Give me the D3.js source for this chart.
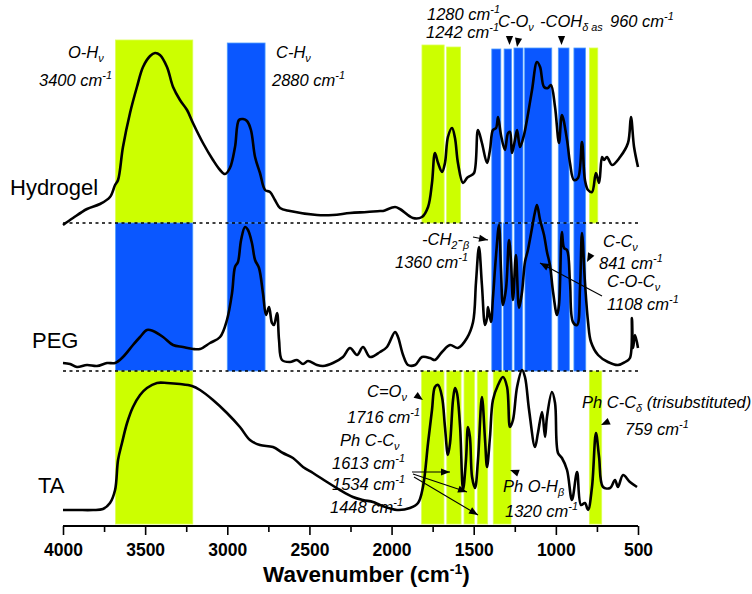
<!DOCTYPE html>
<html><head><meta charset="utf-8">
<script src="https://cdn.jsdelivr.net/npm/d3@7"></script>
<style>html,body{margin:0;padding:0;background:#fff;}svg{display:block;font-family:"Liberation Sans",Arial,sans-serif;}</style>
</head><body>
<svg id="c" width="752" height="594"></svg>
<script>
// ---------------- DATA ----------------
// spectra: [wavenumber (cm-1), intensity (a.u.) above own baseline]
const hydrogel = [[4000,-0.02],[3939,0.05],[3854,0.14],[3775,0.19],[3714,0.26],[3683,0.38],[3665,0.43],[3635,0.76],[3592,1.10],[3550,1.36],[3513,1.56],[3470,1.67],[3440,1.70],[3410,1.68],[3367,1.56],[3330,1.36],[3288,1.23],[3245,1.13],[3209,1.00],[3148,0.80],[3087,0.63],[3044,0.53],[3014,0.49],[2984,0.55],[2953,0.76],[2929,1.03],[2904,1.04],[2880,1.02],[2856,0.93],[2831,0.66],[2801,0.50],[2770,0.33],[2740,0.31],[2710,0.23],[2679,0.15],[2618,0.12],[2454,0.08],[2357,0.08],[2253,0.10],[2150,0.11],[2070,0.12],[2052,0.12],[1979,0.16],[1949,0.14],[1870,0.05],[1815,0.06],[1778,0.16],[1754,0.40],[1736,0.70],[1717,0.60],[1693,0.51],[1675,0.60],[1657,0.86],[1632,0.95],[1614,0.85],[1596,0.60],[1565,0.40],[1541,0.45],[1523,0.47],[1498,0.50],[1474,0.93],[1450,0.80],[1419,0.60],[1401,0.73],[1383,0.93],[1364,0.95],[1352,1.06],[1334,0.88],[1310,0.73],[1291,0.90],[1279,0.91],[1267,0.70],[1249,0.83],[1236,0.93],[1218,0.76],[1194,0.88],[1176,1.03],[1145,1.33],[1115,1.61],[1096,1.56],[1072,1.36],[1048,1.35],[1030,1.38],[1005,1.16],[981,0.80],[963,1.08],[932,0.83],[914,0.60],[890,0.43],[865,0.45],[841,0.81],[823,0.43],[804,0.33],[780,0.31],[756,0.50],[737,0.40],[719,0.66],[707,0.63],[689,0.66],[658,0.58],[609,0.66],[561,0.80],[543,1.06],[524,0.76],[500,0.56]];

const peg = [[4000,0.08],[3957,0.07],[3915,0.04],[3854,0.06],[3793,0.05],[3732,0.08],[3683,0.08],[3635,0.14],[3574,0.26],[3531,0.34],[3489,0.41],[3452,0.40],[3391,0.34],[3330,0.26],[3270,0.24],[3209,0.22],[3166,0.22],[3105,0.28],[3044,0.34],[3002,0.51],[2971,0.78],[2953,1.04],[2935,1.09],[2916,1.31],[2892,1.44],[2874,1.41],[2850,1.28],[2831,1.11],[2807,1.03],[2783,0.78],[2764,0.56],[2746,0.64],[2728,0.48],[2716,0.46],[2697,0.58],[2685,0.31],[2667,0.11],[2618,0.09],[2576,0.11],[2539,0.07],[2509,0.10],[2454,0.06],[2417,0.05],[2357,0.08],[2296,0.14],[2253,0.23],[2210,0.16],[2174,0.24],[2131,0.14],[2070,0.19],[2028,0.24],[1979,0.39],[1961,0.34],[1930,0.16],[1900,0.06],[1857,0.06],[1815,0.14],[1766,0.13],[1736,0.11],[1693,0.19],[1644,0.26],[1596,0.23],[1541,0.33],[1504,0.49],[1486,0.89],[1468,1.24],[1450,0.86],[1431,0.46],[1419,0.53],[1413,0.64],[1395,0.49],[1383,0.73],[1364,1.16],[1346,1.46],[1334,1.01],[1322,0.66],[1303,0.83],[1285,1.31],[1273,1.09],[1261,0.71],[1243,1.16],[1224,0.63],[1206,0.79],[1188,1.09],[1170,1.21],[1145,1.43],[1127,1.59],[1115,1.66],[1096,1.51],[1072,1.36],[1054,1.19],[1036,1.06],[1017,0.79],[993,0.56],[981,0.66],[963,1.39],[950,1.23],[932,1.21],[914,0.89],[896,0.49],[871,0.46],[853,0.83],[841,1.38],[823,0.89],[804,0.49],[786,0.29],[743,0.16],[683,0.09],[622,0.06],[579,0.09],[549,0.13],[537,0.53],[530,0.23],[518,0.36],[500,0.23]];

const ta = [[4000,0.16],[3915,0.16],[3817,0.16],[3757,0.17],[3714,0.23],[3683,0.36],[3665,0.66],[3641,0.83],[3610,1.03],[3574,1.19],[3531,1.31],[3489,1.38],[3428,1.43],[3367,1.43],[3288,1.42],[3215,1.40],[3166,1.36],[3087,1.26],[3002,1.13],[2923,0.99],[2862,0.86],[2801,0.81],[2722,0.79],[2661,0.73],[2600,0.68],[2539,0.59],[2478,0.53],[2393,0.44],[2314,0.36],[2235,0.29],[2174,0.26],[2113,0.24],[2070,0.21],[1967,0.16],[1888,0.18],[1839,0.23],[1809,0.39],[1778,0.83],[1754,1.16],[1736,1.39],[1717,1.41],[1693,1.29],[1675,0.99],[1657,0.71],[1644,0.83],[1626,1.26],[1614,1.38],[1602,1.33],[1583,0.99],[1565,0.36],[1547,0.66],[1535,0.99],[1523,0.89],[1510,0.49],[1492,0.38],[1474,0.66],[1450,1.29],[1431,0.86],[1419,0.59],[1401,0.89],[1383,1.26],[1352,1.41],[1322,1.49],[1297,1.39],[1279,0.99],[1261,1.06],[1236,1.39],[1206,1.56],[1188,1.49],[1163,1.16],[1127,0.79],[1109,0.93],[1084,1.14],[1066,0.89],[1054,1.09],[1024,1.34],[1005,1.23],[987,0.73],[963,0.68],[932,0.56],[902,0.26],[871,0.54],[847,0.21],[823,0.23],[804,0.16],[780,0.39],[756,0.93],[737,0.69],[713,0.39],[670,0.38],[640,0.46],[622,0.39],[591,0.51],[549,0.44],[506,0.39]];

const spectraNames = ["Hydrogel", "PEG", "TA"];
const offsets = [3.03, 1.55, 0];           // vertical stacking offsets (a.u.)
const panelHeights = [1.48, 1.48, 1.55];  // height of each stacked panel (a.u.)

// highlighted bands: [from, to, kind]  (kind: "y" = yellow, "b" = blue), tops in a.u. above baseline
const hydrogelBands = [[3680,3210,"y",1.83],[3000,2770,"b",1.80],[1815,1680,"y",1.78],[1665,1580,"y",1.76],[1390,1335,"b",1.74],[1315,1270,"b",1.74],[1255,1200,"b",1.75],[1190,1025,"b",1.75],[985,920,"b",1.75],[890,820,"b",1.75],[795,745,"y",1.75]];
const pegBands = [[3680,3210,"b"],[3000,2770,"b"],[1390,1330,"b"],[1320,1267,"b"],[1253,1202,"b"],[1188,1025,"b"],[987,918,"b"],[890,818,"b"]];
const taBands = [[3680,3210,"y"],[1817,1681,"y"],[1664,1577,"y"],[1559,1496,"y"],[1478,1415,"y"],[1381,1273,"y"],[796,721,"y"]];

const tickValues = [4000,3750,3500,3250,3000,2750,2500,2250,2000,1750,1500,1250,1000,750,500];
const tickLabels = {4000:"4000",3500:"3500",3000:"3000",2500:"2500",2000:"2000",1500:"1500",1000:"1000",500:"500"};

// ---------------- DRAW ----------------
const svg = d3.select("#c");
const x = d3.scaleLinear().domain([4000, 500]).range([63, 638]);
const y = d3.scaleLinear().domain([0, 4.86]).range([526, 40]);
const fillC = {y: "#ccff00", b: "#0a57ff"};
const edgeC = {y: "#dcff55", b: "#4d9dff"};

const gb = svg.append("g");
function bands(list, base, height) {
  gb.selectAll(null).data(list).enter().append("rect")
    .attr("x", d => x(d[0]))
    .attr("width", d => x(d[1]) - x(d[0]))
    .attr("y", d => y(base + (d[3] !== undefined ? d[3] : height)))
    .attr("height", d => y(base) - y(base + (d[3] !== undefined ? d[3] : height)))
    .attr("fill", d => fillC[d[2]])
    .attr("stroke", d => edgeC[d[2]]).attr("stroke-width", 0.8);
}
bands(hydrogelBands, offsets[0], 1.75);
bands(pegBands, offsets[1], panelHeights[1]);
bands(taBands, offsets[2] + 0.02, 1.53);

// dotted separators
[offsets[0], offsets[1]].forEach(o => {
  svg.append("line").attr("x1", x(4000)).attr("x2", x(500)).attr("y1", y(o)).attr("y2", y(o))
    .attr("stroke", "#000").attr("stroke-width", 1.5).attr("stroke-dasharray", "3,3.5");
});

// spectra
const line = d3.line().x(d => x(d[0])).y(d => y(d[1])).curve(d3.curveCatmullRom.alpha(0.5));
[hydrogel, peg, ta].forEach((s, i) => {
  svg.append("path").datum(s.map(d => [d[0], d[1] + offsets[i]]))
    .attr("d", line).attr("fill", "none").attr("stroke", "#000")
    .attr("stroke-width", 2.6).attr("stroke-linejoin", "round");
});

// axis
const axis = d3.axisBottom(x).tickValues(tickValues).tickSizeOuter(0)
  .tickSize(9).tickFormat(d => tickLabels[d] || "");
const ga = svg.append("g").attr("transform", "translate(0,526)").call(axis);
ga.select(".domain").attr("stroke-width", 2).attr("d", "M63,0H638");
ga.selectAll(".tick line").attr("stroke-width", 1.6).attr("y2", d => tickLabels[d] ? 9 : 6);
ga.selectAll(".tick text").attr("y", 30).attr("dy", 0).attr("font-size", 17.5)
  .attr("font-weight", "bold").attr("fill", "#000").attr("font-family", '"Liberation Sans",Arial,sans-serif');

// axis title
const tt = svg.append("text").attr("x", 263).attr("y", 582).attr("font-size", 22.5).attr("font-weight", "bold");
tt.append("tspan").text("Wavenumber (cm");
tt.append("tspan").attr("dy", -8).attr("font-size", 14).text("-1");
tt.append("tspan").attr("dy", 8).text(")");

// spectrum names
const nameXY = [[10,195],[32,348],[38,493]];
spectraNames.forEach((n, i) => svg.append("text").attr("x", nameXY[i][0]).attr("y", nameXY[i][1])
  .attr("font-size", 22).text(n));

// rich text helper
function rich(px, py, parts, size) {
  size = size || 16.5;
  const t = svg.append("text").attr("x", px).attr("y", py).attr("font-size", size).attr("font-style", "italic");
  let shift = 0;
  parts.forEach(p => {
    const s = Array.isArray(p) ? p[0] : p, type = Array.isArray(p) ? p[1] : null;
    const target = type === "sub" ? 4 : type === "sup" ? -7 : 0;
    t.append("tspan").attr("dy", target - shift).attr("font-size", type ? size * 0.66 : size).text(s);
    shift = target;
  });
}
const sup1 = ["-1", "sup"];
const labels = [
  [68, 58, ["O-H", ["ν","sub"]]],
  [39, 86, ["3400 cm", sup1]],
  [276, 58, ["C-H", ["ν","sub"]]],
  [272, 86, ["2880 cm", sup1]],
  [427, 20, ["1280 cm", sup1]],
  [426, 38, ["1242 cm", sup1]],
  [498, 27, ["C-O", ["ν","sub"]]],
  [540, 27, ["-COH", ["δ as","sub"]]],
  [610, 27, ["960 cm", sup1]],
  [422, 245, ["-CH", ["2","sub"], "-", ["β","sub"]]],
  [395, 268, ["1360 cm", sup1]],
  [603, 247, ["C-C", ["ν","sub"]]],
  [599, 269, ["841 cm", sup1]],
  [607, 287, ["C-O-C", ["ν","sub"]]],
  [607, 310, ["1108 cm", sup1]],
  [367, 397, ["C=O", ["ν","sub"]]],
  [347, 423, ["1716 cm", sup1]],
  [340, 446, ["Ph C-C", ["ν","sub"]]],
  [332, 469, ["1613 cm", sup1]],
  [332, 490, ["1534 cm", sup1]],
  [330, 513, ["1448 cm", sup1]],
  [503, 492, ["Ph O-H", ["β","sub"]]],
  [505, 517, ["1320 cm", sup1]],
  [582, 408, ["Ph C-C", ["δ","sub"], " (trisubstituted)"]],
  [625, 435, ["759 cm", sup1]]
];
labels.forEach(l => rich(l[0], l[1], l[2]));

// arrows: [x1,y1,x2,y2] (line + head at end); heads only: [tipX,tipY,angleDeg]
const arrowLines = [[473,237,488,240],[602,296,540,263],[412,472,450,472],[413,474,467,492],[414,477,478,515]];
const heads = [[509.5,45,90],[517,47,100],[561.5,45,90],[587,262,118],[423,400,35],[510,470,200],[601,425,155]];
function head(tx, ty, ang) {
  svg.append("path").attr("d", "M0,0L-9,-3.6L-9,3.6Z").attr("fill", "#000")
    .attr("transform", `translate(${tx},${ty}) rotate(${ang})`);
}
arrowLines.forEach(a => {
  svg.append("line").attr("x1", a[0]).attr("y1", a[1]).attr("x2", a[2]).attr("y2", a[3])
    .attr("stroke", "#000").attr("stroke-width", 1.1);
  head(a[2], a[3], Math.atan2(a[3]-a[1], a[2]-a[0]) * 180 / Math.PI);
});
heads.forEach(h => head(h[0], h[1], h[2]));
</script>
</body></html>
